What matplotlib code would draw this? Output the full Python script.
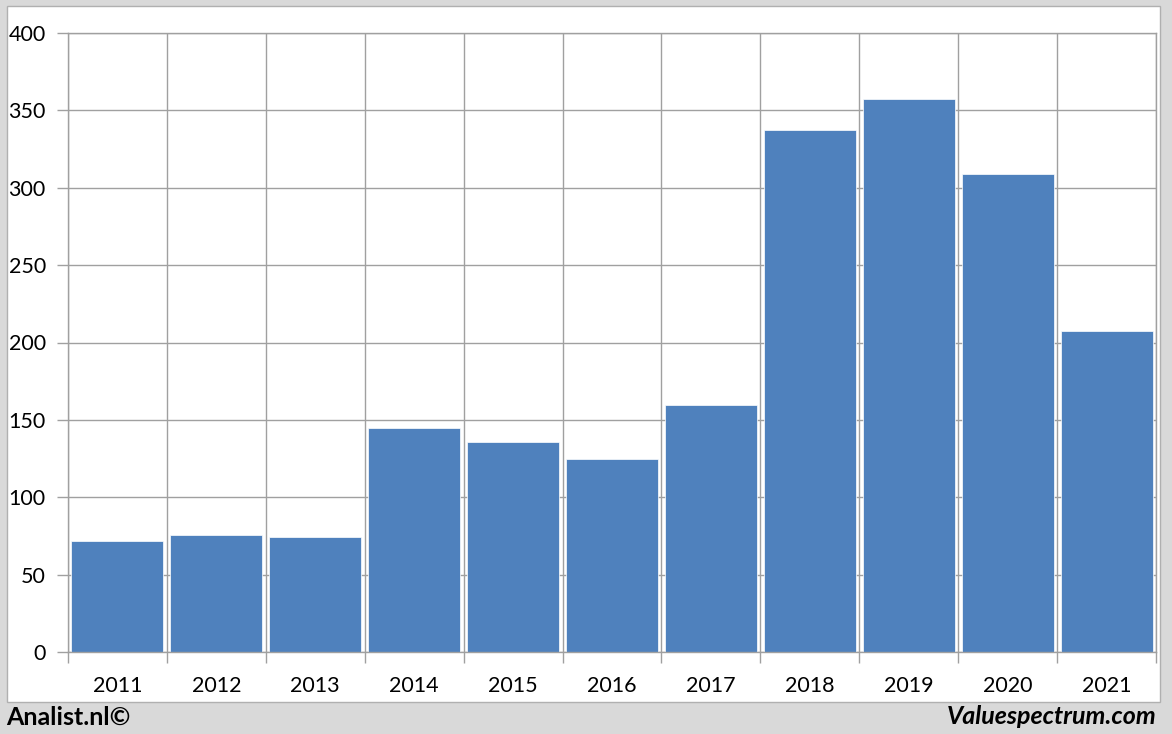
import matplotlib.pyplot as plt
from matplotlib.patches import Rectangle

years = ['2011', '2012', '2013', '2014', '2015', '2016', '2017', '2018', '2019', '2020', '2021']
values = [71.7, 75.6, 74.3, 144.7, 135.7, 124.7, 159.6, 337.3, 357.4, 308.9, 207.4]

plt.rcParams['font.family'] = ['Lato', 'DejaVu Sans']

W, H = 1172, 734
fig = plt.figure(figsize=(W / 100, H / 100), dpi=100, facecolor='#d9d9d9')

# white panel with thin gray border
fig.patches.append(Rectangle((7 / W, 1 - 702 / H), (1160 - 7) / W, (702 - 6) / H,
                             transform=fig.transFigure, facecolor='white',
                             edgecolor='#b0b0b0', linewidth=1, zorder=-5))

ax = fig.add_axes([68 / W, 1 - 652 / H, 1088 / W, 619 / H])
ax.set_facecolor('white')

x = range(len(years))
ax.bar(x, values, width=0.93, color='#4f81bd', edgecolor='white', linewidth=0.5, zorder=2)

ax.set_xlim(-0.5, len(years) - 0.5)
ax.set_ylim(0, 400)
ax.set_yticks(range(0, 401, 50))
ax.set_xticks(x)
ax.set_xticklabels(years)

# vertical grid lines between categories
ax.set_xticks([i + 0.5 for i in range(-1, len(years))], minor=True)
ax.grid(axis='y', color='#a0a0a0', linewidth=1, zorder=1)
ax.grid(axis='x', which='minor', color='#a0a0a0', linewidth=1, zorder=1)
ax.set_axisbelow(True)

ax.tick_params(axis='x', which='major', length=0, pad=17, labelsize=15.5)
ax.tick_params(axis='x', which='minor', length=8, color='#a0a0a0', width=1)
ax.tick_params(axis='y', length=8, color='#a0a0a0', width=1, pad=8, labelsize=15.5)

for s in ['top', 'left', 'bottom', 'right']:
    ax.spines[s].set_color('#a0a0a0')
    ax.spines[s].set_linewidth(1)

fig.text(6 / W, 1 - 717 / H, 'Analist.nl©', fontsize=18, fontweight='bold',
         ha='left', va='center')
fig.text(1157 / W, 1 - 717 / H, 'Valuespectrum.com', fontsize=18, fontweight='bold',
         style='italic', ha='right', va='center')

fig.savefig('out.png', dpi=100, facecolor=fig.get_facecolor())
